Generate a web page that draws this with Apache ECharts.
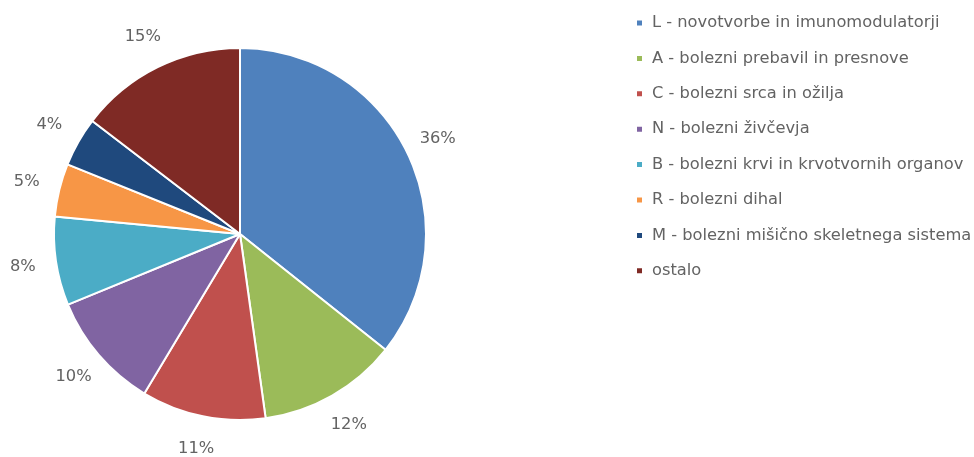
<!DOCTYPE html>
<html><head><meta charset="utf-8">
<script src="https://cdn.jsdelivr.net/npm/echarts@6/dist/echarts.min.js"></script>
<style>html,body{margin:0;padding:0;background:#fff}#c{width:974px;height:457px}</style>
</head><body><div id="c"></div>
<script>
const categories = [
  'L - novotvorbe in imunomodulatorji',
  'A - bolezni prebavil in presnove',
  'C - bolezni srca in ožilja',
  'N - bolezni živčevja',
  'B - bolezni krvi in krvotvornih organov',
  'R - bolezni dihal',
  'M - bolezni mišično skeletnega sistema',
  'ostalo'
];
const values = [35.7, 12.1, 10.8, 10.2, 7.7, 4.6, 4.3, 14.6];
const colors = ['#4f81bd', '#9bbb59', '#c0504d', '#8064a2', '#4bacc6', '#f79646', '#1f497d', '#7f2a25'];

const data = categories.map((n, i) => ({ name: n, value: values[i], itemStyle: { color: colors[i] } }));
const chart = echarts.init(document.getElementById('c'), null, { renderer: 'canvas' });
const font = 'DejaVu Sans';
chart.setOption({
  animation: false,
  legend: {
    orient: 'vertical', left: 635, top: 15, padding: 0,
    itemWidth: 7, itemHeight: 7, itemGap: 19.4, icon: 'rect',
    textStyle: { fontFamily: font, fontSize: 16.3, color: '#636363', padding: [0, 0, 0, 4] },
    data: categories
  },
  series: [
    {
      type: 'pie', center: [240, 234], radius: 186, startAngle: 90, clockwise: true,
      data: data,
      itemStyle: { borderColor: '#fff', borderWidth: 2 },
      label: { show: false }, labelLine: { show: false },
      emphasis: { disabled: true }
    },
    {
      type: 'pie', center: [240, 234], radius: [186, 247], startAngle: 90, clockwise: true,
      silent: true,
      data: categories.map((n, i) => ({ name: n, value: values[i] })),
      itemStyle: { color: 'rgba(0,0,0,0)' },
      label: {
        show: true, position: 'inside', fontFamily: font, fontSize: 16.3, color: '#636363',
        formatter: p => Math.round(p.percent) + '%'
      },
      labelLine: { show: false },
      emphasis: { disabled: true }
    }
  ]
});
</script></body></html>
